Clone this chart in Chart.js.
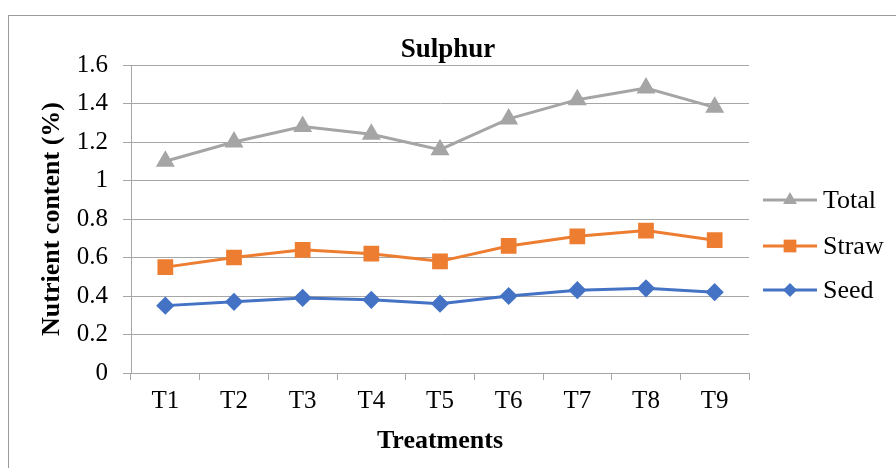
<!DOCTYPE html>
<html>
<head>
<meta charset="utf-8">
<script src="https://cdn.jsdelivr.net/npm/chart.js@4.4.1/dist/chart.umd.min.js"></script>
<style>
    html, body { margin: 0; padding: 0; background: #ffffff; font-family: 'Liberation Serif', serif; }
    #wrap { width: 896px; height: 468px; position: relative; }
    .preload { position: absolute; left: -9999px; top: 0; }
</style>
</head>
<body>
<div class="preload"><span>Sulphur 0.2</span><b>Treatments</b></div>
<div id="wrap"><canvas id="myChart"></canvas></div>
<script>
    // data
    let treatments = ["T1", "T2", "T3", "T4", "T5", "T6", "T7", "T8", "T9"];
    let totalValues = [1.10, 1.20, 1.28, 1.24, 1.16, 1.32, 1.42, 1.48, 1.38];
    let strawValues = [0.55, 0.60, 0.64, 0.62, 0.58, 0.66, 0.71, 0.74, 0.69];
    let seedValues = [0.35, 0.37, 0.39, 0.38, 0.36, 0.40, 0.43, 0.44, 0.42];
    let yTicks = [0, 0.2, 0.4, 0.6, 0.8, 1, 1.2, 1.4, 1.6];
    let chartTitle = 'Sulphur';

    let serif = "'Liberation Serif', 'Times New Roman', serif";
    let gridColor = '#a6a6a6';

    // outer frame like the office chart border, plus the title (sits a bit right of the plot centre)
    let framePlugin = {
        id: 'frame',
        beforeDraw: function(chart){
            let ctx = chart.ctx;
            ctx.save();
            ctx.fillStyle = '#ffffff';
            ctx.fillRect(0, 0, chart.width, chart.height);
            ctx.strokeStyle = '#9a9a9a';
            ctx.lineWidth = 1;
            ctx.strokeRect(8.5, 15.5, 1000, 1000);
            ctx.restore();
        },
        afterDraw: function(chart){
            let ctx = chart.ctx;
            ctx.save();
            ctx.fillStyle = '#000000';
            ctx.font = 'bold 27px ' + serif;
            ctx.textAlign = 'center';
            ctx.textBaseline = 'alphabetic';
            ctx.fillText(chartTitle, 448, 57);
            ctx.restore();
        }
    };

    // legend with line + marker, the built-in one only shows the marker
    function drawMarker(ctx, style, x, y, r){
        ctx.beginPath();
        if(style === 'triangle'){
            ctx.moveTo(x, y - r);
            ctx.lineTo(x + r * 0.866, y + r * 0.5);
            ctx.lineTo(x - r * 0.866, y + r * 0.5);
        } else if(style === 'rect'){
            let s = r * Math.SQRT1_2;
            ctx.rect(x - s, y - s, 2 * s, 2 * s);
        } else {
            ctx.moveTo(x, y - r);
            ctx.lineTo(x + r, y);
            ctx.lineTo(x, y + r);
            ctx.lineTo(x - r, y);
        }
        ctx.closePath();
        ctx.fill();
    }

    let legendPlugin = {
        id: 'sideLegend',
        afterDraw: function(chart){
            let ctx = chart.ctx;
            let rows = [200, 246, 290];
            ctx.save();
            chart.data.datasets.forEach(function(ds, i){
                let y = rows[i];
                ctx.strokeStyle = ds.borderColor;
                ctx.lineWidth = 3;
                ctx.beginPath();
                ctx.moveTo(763, y);
                ctx.lineTo(817, y);
                ctx.stroke();
                ctx.fillStyle = ds.pointBackgroundColor;
                drawMarker(ctx, ds.pointStyle, 790, y, ds.pointRadius);
                ctx.fillStyle = '#000000';
                ctx.font = '26px ' + serif;
                ctx.textBaseline = 'middle';
                ctx.textAlign = 'left';
                ctx.fillText(ds.label, 823, y + 1);
            });
            ctx.restore();
        }
    };

    function buildChart(){
        let ctx = document.getElementById("myChart");
        return new Chart(ctx, {
            type: 'line',
            data: {
                labels: treatments,
                datasets: [{
                    label: 'Total',
                    data: totalValues,
                    borderColor: '#a5a5a5',
                    pointBackgroundColor: '#a5a5a5',
                    pointBorderColor: '#a5a5a5',
                    pointStyle: 'triangle',
                    pointRadius: 8,
                    borderWidth: 3
                }, {
                    label: 'Straw',
                    data: strawValues,
                    borderColor: '#ed7d31',
                    pointBackgroundColor: '#ed7d31',
                    pointBorderColor: '#ed7d31',
                    pointStyle: 'rect',
                    pointRadius: 9,
                    borderWidth: 3
                }, {
                    label: 'Seed',
                    data: seedValues,
                    borderColor: '#4472c4',
                    pointBackgroundColor: '#4472c4',
                    pointBorderColor: '#4472c4',
                    pointStyle: 'rectRot',
                    pointRadius: 7,
                    borderWidth: 3
                }]
            },
            options: {
                responsive: true,
                maintainAspectRatio: false,
                animation: false,
                layout: {
                    padding: {left: 0, right: 147, top: 65, bottom: 0}
                },
                plugins: {
                    legend: {display: false},
                    tooltip: {enabled: false},
                    title: {display: false}
                },
                scales: {
                    x: {
                        type: 'category',
                        offset: true,
                        grid: {
                            offset: true,
                            drawOnChartArea: false,
                            drawTicks: true,
                            tickLength: 7,
                            color: gridColor
                        },
                        border: {display: true, color: gridColor, width: 1},
                        ticks: {
                            color: '#000000',
                            font: {family: serif, size: 25},
                            padding: 6,
                            maxRotation: 0
                        },
                        title: {
                            display: true,
                            text: 'Treatments',
                            color: '#000000',
                            font: {family: serif, size: 26, weight: 'bold'},
                            padding: {top: 0, bottom: 11}
                        },
                        afterFit: function(scale){
                            scale.height = 95;
                        }
                    },
                    y: {
                        min: 0,
                        max: 1.6,
                        afterBuildTicks: function(scale){
                            scale.ticks = yTicks.map(function(v){ return {value: v}; });
                        },
                        grid: {
                            color: gridColor,
                            tickLength: 8,
                            lineWidth: 1
                        },
                        border: {display: true, color: gridColor, width: 1},
                        ticks: {
                            color: '#000000',
                            font: {family: serif, size: 25},
                            padding: 15,
                            callback: function(v){ return String(+v.toFixed(1)); }
                        },
                        title: {
                            display: true,
                            text: 'Nutrient content (%)',
                            color: '#000000',
                            font: {family: serif, size: 26, weight: 'bold'},
                            padding: {top: 37, bottom: 0}
                        },
                        afterFit: function(scale){
                            scale.width = 131;
                        }
                    }
                }
            },
            plugins: [framePlugin, legendPlugin]
        });
    }

    // make sure the serif face is ready before the canvas text is drawn
    let myLineChart = null;
    Promise.all([
        document.fonts.load('25px "Liberation Serif"'),
        document.fonts.load('bold 27px "Liberation Serif"')
    ]).then(function(){
        myLineChart = buildChart();
    }, function(){
        myLineChart = buildChart();
    });
</script>
</body>
</html>
